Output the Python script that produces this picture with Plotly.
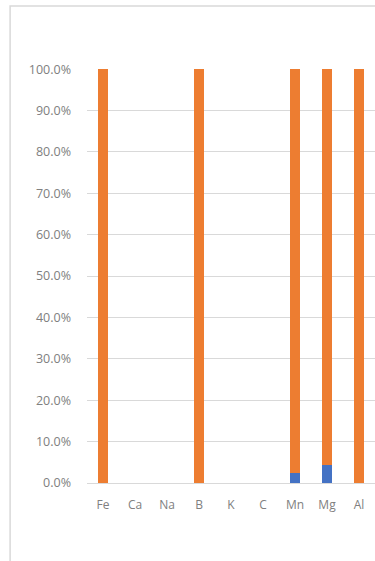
import plotly.graph_objects as go

# Element composition share per element (fraction of total)
elements = ["Fe", "Ca", "Na", "B", "K", "C", "Mn", "Mg", "Al"]
share_blue = [0.0, None, None, 0.0, None, None, 0.025, 0.044, 0.0]
share_orange = [1.0, None, None, 1.0, None, None, 0.975, 0.956, 1.0]
y_ticks = [i / 10 for i in range(11)]

BLUE = "#4472C4"
ORANGE = "#ED7D31"
GRID = "#D9D9D9"
LABEL = "#808080"
FONT = "Open Sans, Lato, sans-serif"

fig = go.Figure()
fig.add_trace(go.Bar(x=elements, y=share_blue, marker=dict(color=BLUE, line_width=0), name="A"))
fig.add_trace(go.Bar(x=elements, y=share_orange, marker=dict(color=ORANGE, line_width=0), name="B"))

fig.update_layout(
    width=375,
    height=561,
    barmode="stack",
    bargap=0.69,
    showlegend=False,
    paper_bgcolor="white",
    plot_bgcolor="white",
    margin=dict(l=87, r=0, t=69, b=78),
    font=dict(family=FONT, color=LABEL, size=12),
)
fig.update_xaxes(
    range=[-0.5, 8.5],
    showgrid=False,
    showline=True,
    linecolor=GRID,
    linewidth=1,
    ticks="",
    ticklabelstandoff=11,
    tickfont=dict(size=12, color=LABEL),
    fixedrange=True,
)
fig.update_yaxes(
    range=[0, 1.0005],
    tickvals=y_ticks,
    tickformat=".1%",
    showgrid=True,
    gridcolor=GRID,
    gridwidth=1,
    zeroline=False,
    showline=False,
    ticks="",
    ticklabelstandoff=15,
    tickfont=dict(size=12.5, color=LABEL),
    fixedrange=True,
)

# Chart-area frame (extends past the visible page on the right and bottom)
fig.add_shape(
    type="rect",
    xref="paper",
    yref="paper",
    x0=-0.267,
    x1=1.2,
    y0=-0.3,
    y1=1.152,
    line=dict(color="#D9D9D9", width=1.5),
    fillcolor="rgba(0,0,0,0)",
    layer="below",
)

fig.write_html("out.html", config={"displayModeBar": False})
